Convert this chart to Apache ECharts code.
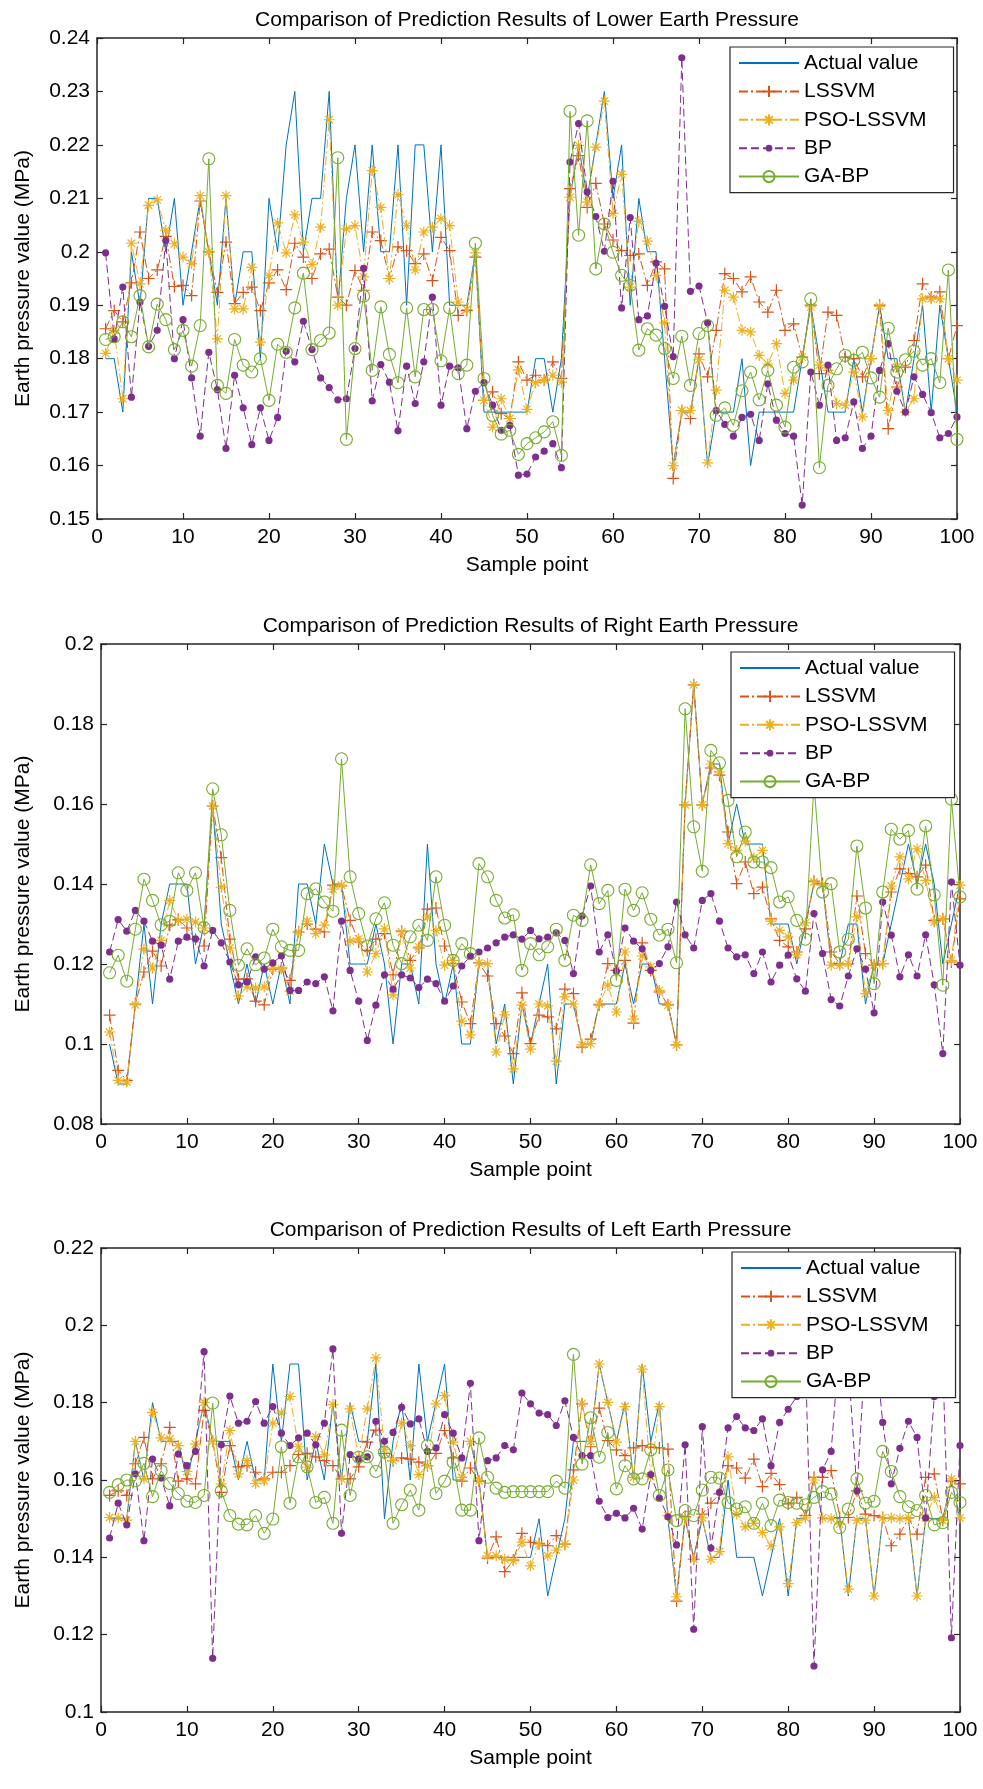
<!DOCTYPE html>
<html>
<head>
<meta charset="utf-8">
<title>Comparison of Prediction Results</title>
<script src="https://cdn.jsdelivr.net/npm/echarts@6/dist/echarts.min.js"></script>
<style>
  html, body { margin: 0; padding: 0; background: #fff; }
  #chart { width: 983px; height: 1789px; }
</style>
</head>
<body>
<div id="chart"></div>
<script>
// ---- data ----
var seriesNames = ['Actual value', 'LSSVM', 'PSO-LSSVM', 'BP', 'GA-BP'];
var panelTitles = [
  'Comparison of Prediction Results of Lower Earth Pressure',
  'Comparison of Prediction Results of Right Earth Pressure',
  'Comparison of Prediction Results of Left Earth Pressure'
];
var xTicks = [0, 100, 10];
var yTicksLower = [0.15, 0.24, 0.01];
var yTicksRight = [0.08, 0.2, 0.02];
var yTicksLeft = [0.1, 0.22, 0.02];

// lower earth pressure
var lowerActual = [0.18,0.18,0.17,0.20,0.19,0.21,0.21,0.20,0.21,0.19,0.20,0.21,0.20,0.19,0.21,0.19,0.20,0.20,0.18,0.21,
  0.20,0.22,0.23,0.20,0.21,0.21,0.23,0.19,0.21,0.22,0.20,0.22,0.20,0.20,0.22,0.19,0.22,0.22,0.20,0.22,
  0.19,0.19,0.19,0.20,0.17,0.17,0.17,0.17,0.17,0.17,0.18,0.18,0.17,0.18,0.21,0.22,0.21,0.22,0.23,0.21,
  0.22,0.19,0.21,0.20,0.20,0.18,0.16,0.17,0.17,0.18,0.16,0.17,0.17,0.17,0.18,0.16,0.17,0.17,0.17,0.17,
  0.17,0.18,0.19,0.18,0.17,0.17,0.17,0.18,0.17,0.18,0.19,0.18,0.18,0.17,0.18,0.19,0.17,0.19,0.18,0.17];
var lowerLSSVM = [0.1856,0.189,0.1869,0.1942,0.2037,0.195,0.1966,0.2029,0.1935,0.1937,0.1918,0.2095,0.200,0.1924,0.2018,0.1903,0.1924,0.1934,0.189,0.1942,
  0.1966,0.1929,0.2016,0.199,0.195,0.1996,0.2005,0.1915,0.190,0.1965,0.1928,0.2037,0.2021,0.195,0.2009,0.2002,0.1978,0.1996,0.1946,0.2027,
  0.2002,0.1881,0.189,0.199,0.1722,0.1738,0.1697,0.1688,0.1794,0.176,0.1769,0.176,0.1794,0.1763,0.2118,0.218,0.2083,0.2128,0.2052,0.2022,
  0.2002,0.1993,0.1996,0.1937,0.1981,0.1968,0.1576,0.1703,0.1688,0.1809,0.1766,0.1853,0.1959,0.195,0.1925,0.1953,0.1906,0.1887,0.1928,0.1853,
  0.1865,0.1803,0.19,0.1772,0.1887,0.1881,0.1803,0.18,0.1766,0.18,0.19,0.1669,0.1747,0.1784,0.1834,0.194,0.1915,0.1925,0.18,0.1862];
var lowerPSO = [0.181,0.1853,0.1725,0.2016,0.194,0.2087,0.2097,0.204,0.2015,0.199,0.1978,0.2105,0.200,0.1837,0.2105,0.1893,0.1893,0.1971,0.1831,0.1956,
  0.2054,0.1998,0.2069,0.2018,0.1976,0.2046,0.2247,0.19,0.2043,0.2049,0.1953,0.2152,0.2083,0.195,0.2107,0.2049,0.1966,0.2037,0.2046,0.2062,
  0.2049,0.1906,0.1892,0.1998,0.1722,0.1672,0.1725,0.1688,0.1779,0.1705,0.1755,0.176,0.1769,0.1756,0.2102,0.2199,0.2093,0.2196,0.2282,0.2072,
  0.2145,0.1934,0.2057,0.202,0.1956,0.1867,0.16,0.1703,0.1703,0.1798,0.1605,0.1741,0.1928,0.1915,0.1853,0.185,0.1806,0.179,0.1828,0.1735,
  0.176,0.1803,0.1897,0.1788,0.1778,0.1716,0.1713,0.1775,0.1691,0.18,0.1898,0.1703,0.1784,0.17,0.1725,0.1912,0.1912,0.1912,0.18,0.176];
var lowerBP = [0.1998,0.1837,0.1934,0.1728,0.1906,0.1823,0.1853,0.2021,0.18,0.1873,0.1764,0.1655,0.1812,0.1742,0.1632,0.1769,0.1708,0.1639,0.1708,0.1647,
  0.169,0.1814,0.1794,0.187,0.1817,0.1764,0.1746,0.1723,0.1725,0.1819,0.1969,0.1721,0.1789,0.1756,0.1665,0.1786,0.1716,0.1794,0.1915,0.1713,
  0.1786,0.1783,0.1669,0.1739,0.1755,0.1713,0.1666,0.1675,0.1582,0.1584,0.1616,0.1627,0.1641,0.1596,0.2168,0.224,0.2112,0.2066,0.2001,0.2132,
  0.1895,0.2064,0.1873,0.188,0.1979,0.1898,0.1804,0.2363,0.1926,0.1936,0.1867,0.1703,0.1677,0.1655,0.169,0.1696,0.1647,0.1753,0.1685,0.166,
  0.1655,0.1526,0.1775,0.1713,0.1788,0.1647,0.1652,0.1719,0.1632,0.1655,0.1778,0.1828,0.1739,0.17,0.1766,0.1733,0.1699,0.1652,0.166,0.1691];
var lowerGABP = [0.1836,0.1841,0.1869,0.1841,0.1918,0.1822,0.1902,0.1873,0.1817,0.1853,0.1786,0.1862,0.2174,0.175,0.1735,0.1836,0.1788,0.1775,0.18,0.1722,
  0.1827,0.1812,0.1895,0.196,0.1817,0.1834,0.1848,0.2176,0.1649,0.1819,0.1917,0.1778,0.1897,0.1808,0.1755,0.1895,0.1766,0.1892,0.1892,0.1796,
  0.1895,0.1772,0.1788,0.2016,0.1763,0.1694,0.1659,0.1666,0.1621,0.1641,0.1652,0.1663,0.1682,0.1619,0.2263,0.2031,0.2245,0.1968,0.2052,0.1999,
  0.1956,0.1937,0.1816,0.1856,0.1844,0.1819,0.1763,0.1842,0.175,0.1847,0.1862,0.1694,0.1708,0.1675,0.174,0.1775,0.1723,0.1778,0.1713,0.1672,
  0.1784,0.1794,0.1912,0.1596,0.175,0.1781,0.1806,0.1797,0.1812,0.1764,0.1728,0.1857,0.1775,0.1798,0.1814,0.1788,0.18,0.1755,0.1966,0.1649];

// right earth pressure
var rightActual = [0.10,0.09,0.09,0.11,0.13,0.11,0.13,0.14,0.14,0.14,0.12,0.13,0.16,0.13,0.12,0.11,0.12,0.11,0.12,0.11,
  0.12,0.11,0.14,0.14,0.13,0.15,0.14,0.14,0.12,0.12,0.12,0.13,0.12,0.10,0.12,0.12,0.11,0.15,0.12,0.11,
  0.12,0.10,0.10,0.12,0.12,0.10,0.11,0.09,0.11,0.10,0.11,0.12,0.09,0.11,0.11,0.10,0.10,0.11,0.11,0.11,
  0.12,0.11,0.12,0.12,0.11,0.11,0.10,0.16,0.19,0.16,0.17,0.17,0.15,0.16,0.15,0.15,0.15,0.13,0.13,0.13,
  0.12,0.13,0.14,0.14,0.12,0.12,0.13,0.13,0.11,0.12,0.12,0.13,0.14,0.15,0.14,0.15,0.14,0.12,0.13,0.14];
var rightLSSVM = [0.1072,0.0934,0.0909,0.11,0.118,0.1232,0.1195,0.1297,0.1311,0.129,0.1262,0.1245,0.1595,0.1466,0.1262,0.1162,0.1163,0.1107,0.1098,0.1187,
  0.119,0.1159,0.128,0.13,0.1287,0.128,0.1397,0.1395,0.1309,0.1255,0.1234,0.1262,0.1276,0.1173,0.1282,0.1209,0.124,0.1337,0.134,0.1245,
  0.1201,0.1105,0.1051,0.1203,0.117,0.1051,0.102,0.0976,0.1128,0.1001,0.1072,0.1068,0.1038,0.1137,0.1126,0.0992,0.1012,0.1098,0.1201,0.1184,
  0.1209,0.1052,0.1253,0.1184,0.113,0.1098,0.0998,0.1598,0.1898,0.1598,0.169,0.1672,0.153,0.1401,0.1455,0.1376,0.1392,0.1313,0.1259,0.1243,
  0.123,0.1288,0.1407,0.1401,0.123,0.1201,0.1201,0.137,0.1226,0.1197,0.1201,0.138,0.1438,0.1426,0.1418,0.1447,0.1309,0.1313,0.1205,0.1363];
var rightPSO = [0.103,0.0909,0.0905,0.1098,0.1237,0.119,0.1259,0.1359,0.1309,0.1312,0.1305,0.129,0.1595,0.1392,0.124,0.112,0.1143,0.114,0.1143,0.119,
  0.1188,0.1132,0.128,0.1307,0.1276,0.1297,0.1387,0.1397,0.1257,0.1263,0.118,0.1226,0.1288,0.1123,0.128,0.119,0.1243,0.1318,0.1284,0.1197,
  0.1209,0.1057,0.1023,0.1203,0.1201,0.098,0.1073,0.0938,0.1097,0.0987,0.11,0.1095,0.0957,0.1118,0.11,0.0998,0.1001,0.11,0.1147,0.108,
  0.123,0.1062,0.122,0.1193,0.1134,0.1097,0.0998,0.1598,0.1898,0.1598,0.17,0.168,0.1501,0.1484,0.1507,0.1465,0.1484,0.1307,0.1284,0.1268,
  0.1223,0.1303,0.1405,0.1397,0.1197,0.1197,0.1201,0.1318,0.1126,0.1197,0.1201,0.1395,0.1468,0.1413,0.1488,0.1409,0.1305,0.1313,0.1209,0.1397];
var rightBP = [0.123,0.1311,0.1282,0.1334,0.1307,0.1257,0.1247,0.1162,0.1257,0.1267,0.1263,0.1195,0.1284,0.1253,0.1205,0.1148,0.1155,0.1218,0.1187,0.1203,
  0.122,0.1134,0.1134,0.1155,0.1151,0.1168,0.1083,0.1307,0.1184,0.1107,0.1009,0.1097,0.1173,0.1137,0.1173,0.1165,0.1141,0.1162,0.1151,0.1107,
  0.1145,0.1195,0.122,0.123,0.124,0.1253,0.1267,0.1273,0.1262,0.1284,0.1263,0.1267,0.1278,0.1259,0.1176,0.132,0.1395,0.123,0.1273,0.1182,
  0.129,0.1257,0.1238,0.1184,0.1201,0.1243,0.1355,0.1273,0.124,0.1359,0.1376,0.1307,0.124,0.1218,0.1223,0.1176,0.123,0.1155,0.1197,0.1222,
  0.1163,0.1132,0.1326,0.1226,0.1111,0.1095,0.117,0.1238,0.1187,0.1078,0.1355,0.1272,0.1168,0.1223,0.117,0.1273,0.1148,0.0976,0.1405,0.1197];
var rightGABP = [0.1178,0.1222,0.1157,0.1287,0.1412,0.1359,0.1298,0.1307,0.1428,0.1384,0.1428,0.1291,0.1638,0.1523,0.1334,0.1197,0.1238,0.1198,0.1215,0.1287,
  0.1243,0.1234,0.1234,0.1376,0.1388,0.1355,0.1332,0.1713,0.1418,0.1326,0.1245,0.1313,0.1353,0.1247,0.1201,0.1268,0.1297,0.1259,0.1418,0.1297,
  0.1209,0.1251,0.1226,0.1451,0.1418,0.1359,0.1315,0.1323,0.1184,0.1251,0.1223,0.1243,0.1287,0.1209,0.1322,0.1309,0.1448,0.1351,0.1384,0.1159,
  0.1387,0.1334,0.1378,0.1312,0.1272,0.1287,0.1203,0.1838,0.1543,0.1432,0.1734,0.1703,0.1609,0.1468,0.153,0.1455,0.1455,0.1441,0.1355,0.1368,
  0.1309,0.1262,0.165,0.138,0.1401,0.123,0.1262,0.1495,0.134,0.1151,0.138,0.1537,0.1512,0.1534,0.1387,0.1545,0.1373,0.1147,0.1612,0.1368];

// left earth pressure
var leftActual = [0.15,0.15,0.15,0.17,0.16,0.18,0.17,0.17,0.17,0.16,0.17,0.18,0.17,0.17,0.17,0.16,0.17,0.16,0.16,0.19,
  0.17,0.19,0.19,0.16,0.17,0.16,0.18,0.16,0.18,0.17,0.17,0.19,0.15,0.17,0.18,0.16,0.19,0.17,0.18,0.19,
  0.16,0.16,0.17,0.16,0.14,0.14,0.14,0.14,0.14,0.14,0.15,0.13,0.14,0.15,0.17,0.17,0.17,0.19,0.18,0.17,
  0.18,0.16,0.19,0.17,0.18,0.15,0.13,0.15,0.14,0.15,0.14,0.14,0.16,0.14,0.14,0.14,0.13,0.14,0.15,0.13,
  0.15,0.15,0.16,0.15,0.15,0.15,0.13,0.15,0.15,0.13,0.15,0.15,0.15,0.15,0.13,0.15,0.15,0.15,0.16,0.15];
var leftLSSVM = [0.156,0.1572,0.156,0.1642,0.171,0.1603,0.1642,0.1736,0.1597,0.1603,0.159,0.178,0.17,0.1568,0.1689,0.1634,0.1637,0.162,0.1603,0.162,
  0.162,0.1637,0.1666,0.1669,0.166,0.165,0.1637,0.1603,0.1603,0.1634,0.1698,0.1729,0.1669,0.165,0.1657,0.1654,0.1646,0.1637,0.1669,0.1728,
  0.1657,0.1597,0.1631,0.1597,0.1398,0.1453,0.1363,0.1393,0.1462,0.1439,0.1436,0.143,0.1456,0.1434,0.1626,0.1797,0.1686,0.1786,0.1702,0.1678,
  0.1663,0.1683,0.1689,0.1685,0.1683,0.168,0.1287,0.1505,0.1395,0.1512,0.154,0.1564,0.1637,0.1631,0.1605,0.1654,0.1583,0.1617,0.1588,0.1538,
  0.1555,0.1508,0.1607,0.1607,0.1624,0.1503,0.1503,0.1572,0.1512,0.1508,0.1503,0.143,0.146,0.1502,0.146,0.1607,0.1616,0.1496,0.1597,0.159];
var leftPSO = [0.1503,0.1502,0.1496,0.17,0.1603,0.1775,0.1709,0.1706,0.1689,0.1622,0.1693,0.1801,0.17,0.159,0.1728,0.1616,0.165,0.1591,0.1598,0.1747,
  0.1773,0.1816,0.1686,0.1633,0.1712,0.1665,0.1795,0.1603,0.1784,0.1658,0.1784,0.1916,0.168,0.165,0.1747,0.1689,0.1614,0.1637,0.1797,0.1818,
  0.1698,0.1607,0.17,0.1598,0.1404,0.1404,0.1395,0.1391,0.1439,0.1378,0.1434,0.1404,0.1419,0.1434,0.16,0.1798,0.17,0.19,0.1801,0.1698,
  0.179,0.1607,0.1887,0.1609,0.179,0.1508,0.1298,0.1502,0.1395,0.1502,0.1395,0.1415,0.166,0.1512,0.1479,0.1488,0.1464,0.143,0.1479,0.1332,
  0.149,0.1502,0.16,0.1502,0.15,0.1486,0.1318,0.1496,0.1496,0.13,0.1502,0.1502,0.15,0.1502,0.13,0.1502,0.1555,0.1495,0.1603,0.1502];
var leftBP = [0.145,0.154,0.1484,0.1616,0.1443,0.1654,0.1605,0.1533,0.1667,0.1637,0.1674,0.1932,0.1139,0.1691,0.1817,0.1747,0.1752,0.1803,0.1747,0.179,
  0.1721,0.1689,0.1709,0.1721,0.1691,0.1747,0.1939,0.1462,0.1666,0.1654,0.166,0.1752,0.17,0.1723,0.1788,0.1745,0.1758,0.1674,0.1683,0.1769,
  0.1721,0.1657,0.185,0.1443,0.165,0.1657,0.1689,0.1678,0.1825,0.1797,0.1773,0.1769,0.1741,0.1805,0.171,0.1663,0.1663,0.1545,0.1503,0.1514,
  0.1502,0.1527,0.1473,0.1614,0.1553,0.1505,0.1432,0.1691,0.1214,0.1738,0.1424,0.1568,0.1735,0.1764,0.1735,0.1728,0.1758,0.1637,0.1749,0.1783,
  0.1816,0.192,0.1119,0.1626,0.1674,0.196,0.19,0.1572,0.194,0.198,0.1749,0.159,0.1682,0.1752,0.171,0.1502,0.1816,0.19,0.1192,0.1689];
var leftGABP = [0.1568,0.1588,0.16,0.1598,0.1643,0.1557,0.1624,0.1591,0.1565,0.1545,0.1542,0.156,0.1799,0.1572,0.1508,0.1486,0.1484,0.1508,0.1462,0.1499,
  0.1686,0.154,0.166,0.1634,0.1542,0.1555,0.1488,0.1729,0.156,0.1659,0.166,0.1622,0.1672,0.1488,0.1536,0.1574,0.1522,0.1689,0.1565,0.1597,
  0.1646,0.1522,0.1522,0.1709,0.1607,0.1579,0.1568,0.157,0.157,0.157,0.157,0.157,0.1597,0.1579,0.1925,0.1641,0.1761,0.1659,0.1723,0.1577,
  0.1637,0.1603,0.1603,0.1678,0.156,0.1626,0.1495,0.1521,0.1508,0.1574,0.1607,0.1605,0.1542,0.1525,0.1531,0.1488,0.154,0.1482,0.1548,0.1542,
  0.154,0.1536,0.1555,0.157,0.1564,0.1477,0.1525,0.1603,0.154,0.1545,0.1674,0.1622,0.1557,0.1531,0.1521,0.156,0.1484,0.149,0.1568,0.1542];

// ---- layout ----
var FONT = '"Liberation Sans", Arial, Helvetica, sans-serif';
var AXIS_COLOR = '#262626';

var panels = [
  { title: panelTitles[0], ticks: yTicksLower, data: [lowerActual, lowerLSSVM, lowerPSO, lowerBP, lowerGABP],
    grid: { left: 97, top: 38, width: 860, height: 481 }, legend: { left: 730, top: 47 } },
  { title: panelTitles[1], ticks: yTicksRight, data: [rightActual, rightLSSVM, rightPSO, rightBP, rightGABP],
    grid: { left: 101, top: 644, width: 859, height: 480 }, legend: { left: 731, top: 652 } },
  { title: panelTitles[2], ticks: yTicksLeft, data: [leftActual, leftLSSVM, leftPSO, leftBP, leftGABP],
    grid: { left: 101, top: 1248, width: 859, height: 464 }, legend: { left: 732, top: 1252 } }
];

// marker / line styles, matlab default colours
var PLUS = 'path://M5,0L5,10M0,5L10,5';
var STAR = 'path://M5,0L5,10M0,5L10,5M1.6,1.6L8.4,8.4M1.6,8.4L8.4,1.6';
// small dot inside a padded box so the legend keeps it small too
var DOT = 'path://M0,0M20,20M16,10A6,6,0,1,1,4,10A6,6,0,1,1,16,10Z';
var NONE = 'rgba(0,0,0,0)';
var looks = [
  { color: '#0072BD', symbol: 'none', size: 0, dash: 'solid', fill: NONE, bw: 0 },
  { color: '#D95319', symbol: PLUS, size: 12, dash: [9, 3, 2, 3], fill: NONE, bw: 1.2 },
  { color: '#EDB120', symbol: STAR, size: 11, dash: [9, 3, 2, 3], fill: NONE, bw: 1.2 },
  { color: '#7E2F8E', symbol: DOT, size: 12, dash: [8, 4], fill: '#7E2F8E', bw: 0 },
  { color: '#77AC30', symbol: 'circle', size: 12, dash: 'solid', fill: NONE, bw: 1.1 }
];

function toPoints(arr) {
  var out = [];
  for (var i = 0; i < arr.length; i++) out.push([i + 1, arr[i]]);
  return out;
}

function tickFmt(v) { return String(+v.toFixed(3)); }

var grids = [], xAxes = [], yAxes = [], legends = [], series = [], graphics = [];

panels.forEach(function (p, k) {
  grids.push({ left: p.grid.left, top: p.grid.top, width: p.grid.width, height: p.grid.height,
    show: false, containLabel: false });

  var lineSt = { lineStyle: { color: AXIS_COLOR, width: 1.5 } };
  var tick = { show: true, inside: true, length: 6, lineStyle: { color: AXIS_COLOR, width: 1.2 } };

  xAxes.push({ type: 'value', gridIndex: k, min: xTicks[0], max: xTicks[1], interval: xTicks[2],
    axisLine: Object.assign({ show: true, onZero: false }, lineSt), axisTick: tick,
    axisLabel: { color: '#000', fontSize: 21, fontFamily: FONT, margin: 8 },
    splitLine: { show: false } });
  xAxes.push({ type: 'value', gridIndex: k, position: 'top', min: xTicks[0], max: xTicks[1], interval: xTicks[2],
    axisLine: Object.assign({ show: true, onZero: false }, lineSt), axisTick: tick,
    axisLabel: { show: false }, splitLine: { show: false } });

  yAxes.push({ type: 'value', gridIndex: k, min: p.ticks[0], max: p.ticks[1], interval: p.ticks[2],
    axisLine: Object.assign({ show: true, onZero: false }, lineSt), axisTick: tick,
    axisLabel: { color: '#000', fontSize: 21, fontFamily: FONT, margin: 7, formatter: tickFmt },
    splitLine: { show: false } });
  yAxes.push({ type: 'value', gridIndex: k, position: 'right', min: p.ticks[0], max: p.ticks[1], interval: p.ticks[2],
    axisLine: Object.assign({ show: true, onZero: false }, lineSt), axisTick: tick,
    axisLabel: { show: false }, splitLine: { show: false } });

  p.data.forEach(function (vals, s) {
    var lk = looks[s];
    series.push({
      name: seriesNames[s], type: 'line', xAxisIndex: 2 * k, yAxisIndex: 2 * k,
      data: toPoints(vals),
      symbol: lk.symbol, symbolSize: lk.size, showSymbol: lk.symbol !== 'none', showAllSymbol: true,
      lineStyle: { color: lk.color, width: 1, type: lk.dash },
      itemStyle: { color: lk.fill, borderColor: lk.color, borderWidth: lk.bw },
      emphasis: { disabled: true }, silent: true, z: 2 + s * 0.1
    });
  });

  legends.push({
    left: p.legend.left, top: p.legend.top, orient: 'vertical', data: seriesNames,
    itemWidth: 60, itemHeight: 14, itemGap: 4.4, padding: [4, 27, 4, 8],
    borderColor: AXIS_COLOR, borderWidth: 1.2, backgroundColor: '#fff', selectedMode: false,
    textStyle: { color: '#000', fontSize: 21, fontFamily: FONT, lineHeight: 24 }, z: 10
  });

  var cx = p.grid.left + p.grid.width / 2;
  var cy = p.grid.top + p.grid.height / 2;
  var font = '21px ' + FONT;
  graphics.push({ type: 'text', x: cx, y: p.grid.top - 18,
    style: { text: p.title, fill: '#000', font: font, align: 'center', verticalAlign: 'middle',
      textAlign: 'center', textVerticalAlign: 'middle' } });
  graphics.push({ type: 'text', x: cx, y: p.grid.top + p.grid.height + 46,
    style: { text: 'Sample point', fill: '#000', font: font, align: 'center', verticalAlign: 'middle',
      textAlign: 'center', textVerticalAlign: 'middle' } });
  graphics.push({ type: 'text', x: 23, y: cy, rotation: Math.PI / 2,
    style: { text: 'Earth pressure value (MPa)', fill: '#000', font: font, align: 'center', verticalAlign: 'middle',
      textAlign: 'center', textVerticalAlign: 'middle' } });
});

var chart = echarts.init(document.getElementById('chart'), null, { renderer: 'canvas' });
chart.setOption({
  backgroundColor: '#fff',
  animation: false,
  grid: grids,
  xAxis: xAxes,
  yAxis: yAxes,
  legend: legends,
  series: series,
  graphic: graphics
});
</script>
</body>
</html>
